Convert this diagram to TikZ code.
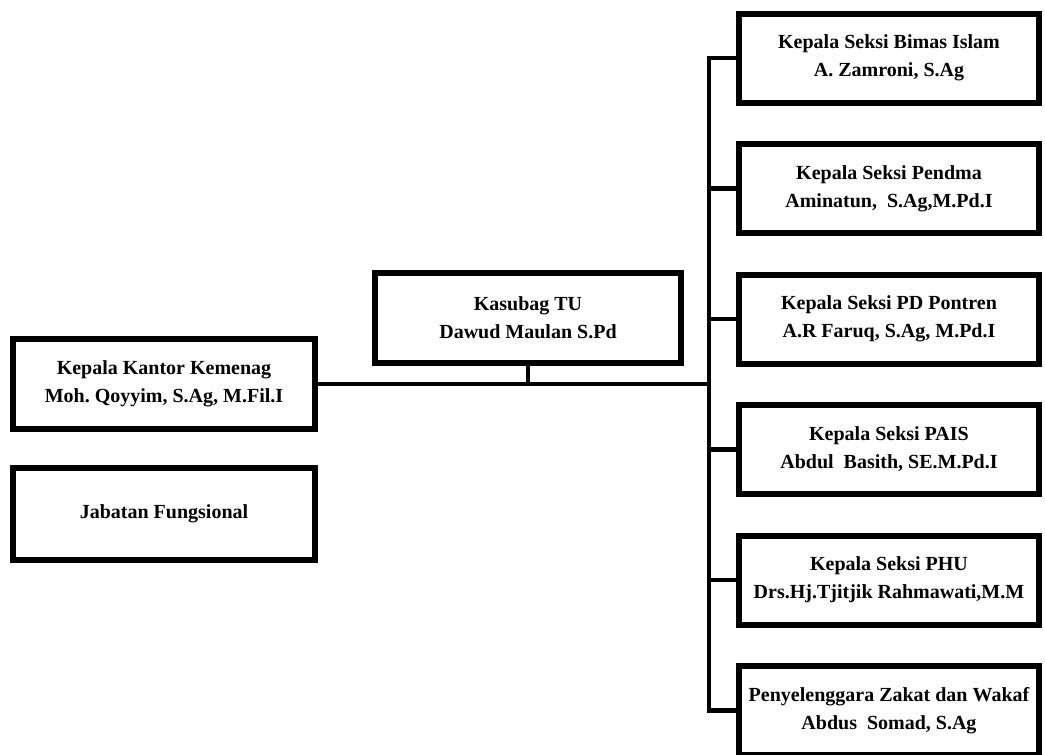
\documentclass[tikz,border=0pt]{standalone}
\usepackage{fontspec}
\setmainfont{Liberation Serif}
\usetikzlibrary{shadows}
\frenchspacing
\begin{document}
\begin{tikzpicture}[x=1pt,y=-1pt,
  box/.style={draw=black, fill=white, line width=6pt, rectangle, align=center,
    font=\fontsize{20}{28}\selectfont\bfseries, inner sep=0pt,
    drop shadow={opacity=0.3, shadow xshift=2pt, shadow yshift=-3pt}},
  leftbox/.style={box, minimum width=302pt, minimum height=90pt},
  rightbox/.style={box, minimum width=300pt, minimum height=89pt},
  conn/.style={line width=4.5pt}]
\useasboundingbox (0,0) rectangle (1045,755);
\clip (0,0) rectangle (1045,755);
\node[leftbox] (kepala) at (164,384) {Kepala Kantor Kemenag\\Moh. Qoyyim, S.Ag, M.Fil.I};
\node[leftbox, minimum height=92pt] (jabatan) at (164,514) {Jabatan Fungsional};
\node[box, minimum width=306pt, minimum height=90pt] (kasubag) at (528,318) {Kasubag TU\\Dawud Maulan S.Pd};
\node[rightbox] (s1) at (889,58) {Kepala Seksi Bimas Islam\\A. Zamroni, S.Ag};
\node[rightbox] (s2) at (889,188.5) {Kepala Seksi Pendma\\Aminatun,\ \ S.Ag,M.Pd.I};
\node[rightbox] (s3) at (889,319) {Kepala Seksi PD Pontren\\A.R Faruq, S.Ag, M.Pd.I};
\node[rightbox] (s4) at (889,449.5) {Kepala Seksi PAIS\\Abdul\ \ Basith, SE.M.Pd.I};
\node[rightbox] (s5) at (889,580) {Kepala Seksi PHU\\Drs.Hj.Tjitjik Rahmawati,M.M};
\node[rightbox] (s6) at (889,710.5) {Penyelenggara Zakat dan Wakaf\\Abdus\ \ Somad, S.Ag};
\coordinate (bustop) at (709,58);
\coordinate (busbot) at (709,710.5);
\coordinate (busmid) at (709,384);
\coordinate (stub) at (528,384);
\draw[conn] (kepala.east) -- (busmid);
\draw[conn] (kasubag.south) -- (stub);
\draw[conn, line cap=rect] (bustop) -- (busbot);
\foreach \s in {s1,s2,s3,s4,s5,s6}{
  \draw[conn] (\s.west) -- (\s.west -| bustop);
}
\end{tikzpicture}
\end{document}
